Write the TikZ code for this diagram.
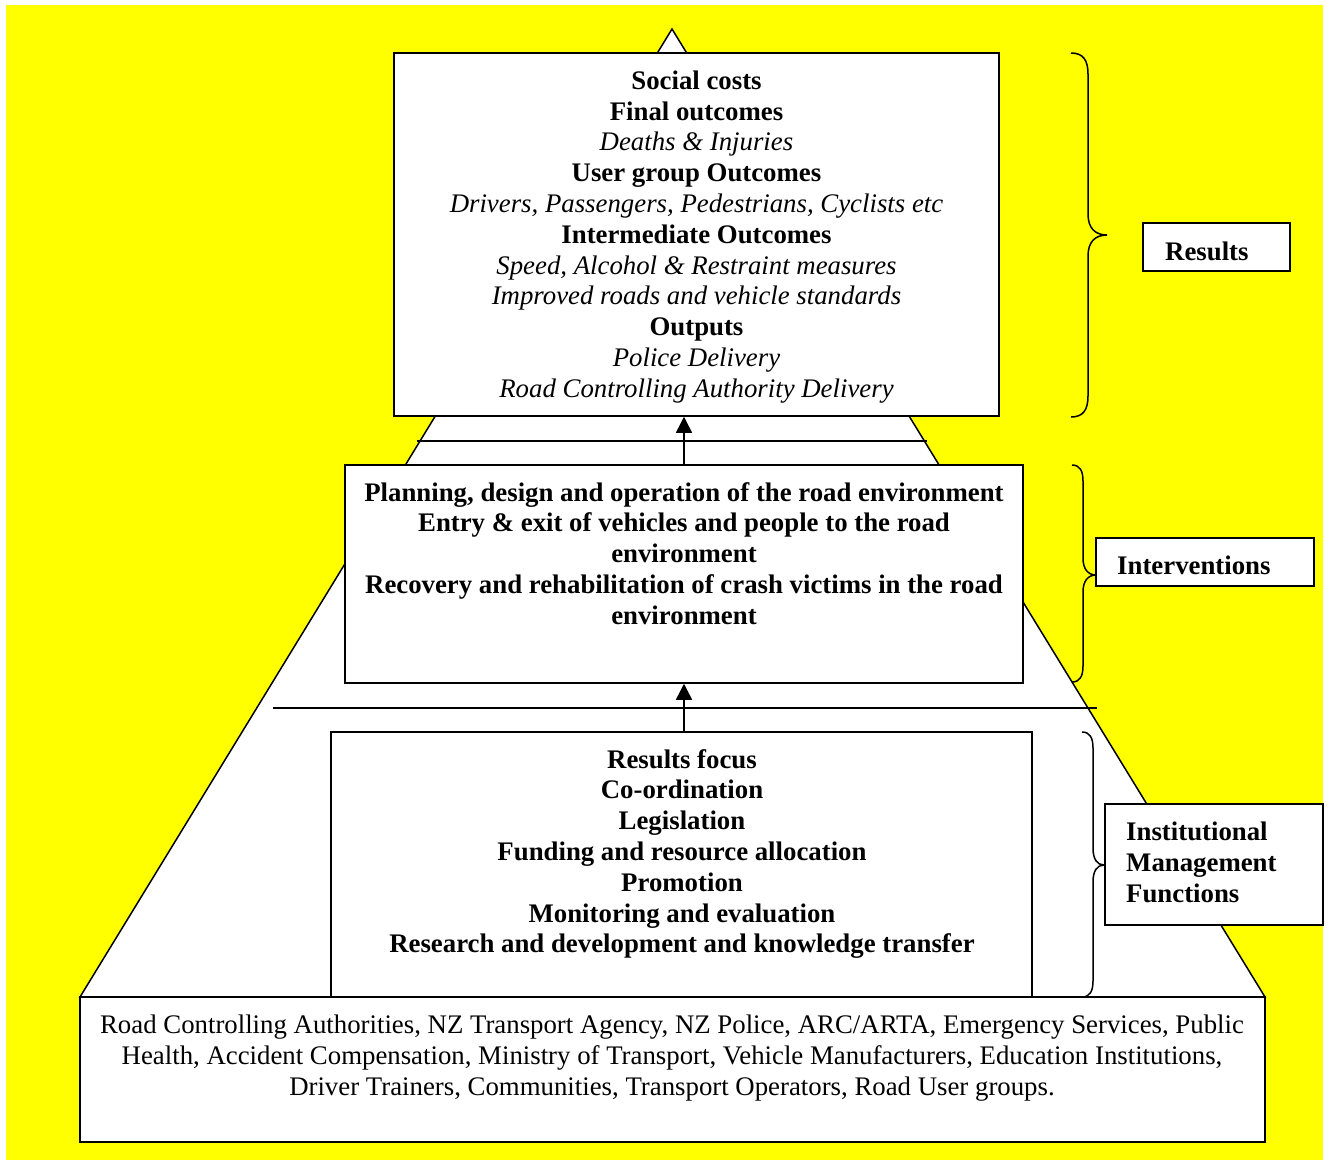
\documentclass[tikz,border=0pt]{standalone}
\usepackage{fontspec}
\setmainfont{Liberation Serif}
\usetikzlibrary{arrows.meta}
\definecolor{yel}{RGB}{255,255,0}
\begin{document}
\begin{tikzpicture}[x=1pt,y=-1pt,
  box/.style={draw,line width=1.5pt,fill=white,rectangle,inner sep=0pt},
  txt/.style={align=center,font=\fontsize{26.8}{30.8}\selectfont,inner sep=0pt,anchor=north},
  lbl/.style={align=left,font=\fontsize{26.8}{30.8}\selectfont\bfseries,inner sep=0pt,anchor=west},
  brc/.style={line width=1.5pt},
  arr/.style={line width=1.5pt,-{Triangle[length=16pt,width=16pt]}},
  rule/.style={line width=1.5pt}]
\useasboundingbox (0,0) rectangle (1331,1160);
\fill[white] (0,0) rectangle (1331,1160);
\fill[yel] (6,5) rectangle (1323,1160);
% pyramid
\draw[line width=1.5pt,fill=white,line join=miter] (672,29) -- (80,997) -- (1265,997) -- cycle;
% horizontal rules
\draw[rule] (417,441) -- (927,441);
\draw[rule] (273,708) -- (1097,708);
% boxes
\node[box,minimum width=605pt,minimum height=363pt] (top) at (696.5,234.5) {};
\node[box,minimum width=678pt,minimum height=218pt] (mid) at (684,574) {};
\node[box,minimum width=701pt,minimum height=265pt] (bm) at (681.5,864.5) {};
\node[box,minimum width=1185pt,minimum height=145pt] (base) at (672.5,1069.5) {};
% texts
\node[txt] (ttop) at (696.5,70.5) {\textbf{Social costs}\\ \textbf{Final outcomes}\\ \textit{Deaths \& Injuries}\\ \textbf{User group Outcomes}\\ \textit{Drivers, Passengers, Pedestrians, Cyclists etc}\\ \textbf{Intermediate Outcomes}\\ \textit{Speed, Alcohol \& Restraint measures}\\ \textit{Improved roads and vehicle standards}\\ \textbf{Outputs}\\ \textit{Police Delivery}\\ \textit{Road Controlling Authority Delivery}};
\node[txt,font=\fontsize{26.8}{30.8}\selectfont\bfseries] (tmid) at (684,482) {Planning, design and operation of the road environment\\ Entry \& exit of vehicles and people to the road\\ environment\\ Recovery and rehabilitation of crash victims in the road\\ environment};
\node[txt,font=\fontsize{26.8}{30.8}\selectfont\bfseries] (tbm) at (682,749) {Results focus\\ Co-ordination\\ Legislation\\ Funding and resource allocation\\ Promotion\\ Monitoring and evaluation\\ Research and development and knowledge transfer};
\node[txt] (tbase) at (672,1015) {Road Controlling Authorities, NZ Transport Agency, NZ Police, ARC/ARTA, Emergency Services, Public\\ Health, Accident Compensation, Ministry of Transport, Vehicle Manufacturers, Education Institutions,\\ Driver Trainers, Communities, Transport Operators, Road User groups.};
% arrows
\draw[arr] (mid.north -| 684,0) -- (top.south -| 684,0);
\draw[arr] (bm.north -| mid.south) -- (mid.south);
% braces
\draw[brc] (1071,53) .. controls (1083,53) and (1088,60) .. (1088,74) -- (1088,214) .. controls (1088,228) and (1095,235) .. (1107,235) .. controls (1095,235) and (1088,242) .. (1088,256) -- (1088,396) .. controls (1088,410) and (1083,417) .. (1071,417);
\draw[brc] (1072,465) .. controls (1080,465) and (1083,471) .. (1083,481) -- (1083,558) .. controls (1083,569) and (1088,575) .. (1096,575) .. controls (1088,575) and (1083,581) .. (1083,592) -- (1083,666) .. controls (1083,676) and (1080,682) .. (1072,682);
\draw[brc] (1082,732) .. controls (1090,732) and (1093,738) .. (1093,748) -- (1093,848) .. controls (1093,859) and (1097,865) .. (1104,865) .. controls (1097,865) and (1093,871) .. (1093,882) -- (1093,981) .. controls (1093,991) and (1090,997) .. (1082,997);
% label boxes
\node[box,minimum width=147pt,minimum height=48pt] (res) at (1216.5,247) {};
\node[lbl] (tres) at (1165,251) {Results};
\node[box,minimum width=218pt,minimum height=48pt] (int) at (1205,562) {};
\node[lbl] (tint) at (1117,565) {Interventions};
\node[box,minimum width=218pt,minimum height=121pt] (imf) at (1214,864.5) {};
\node[lbl,anchor=north west] (timf) at (1126,822) {Institutional\\ Management\\ Functions};
\end{tikzpicture}
\end{document}
